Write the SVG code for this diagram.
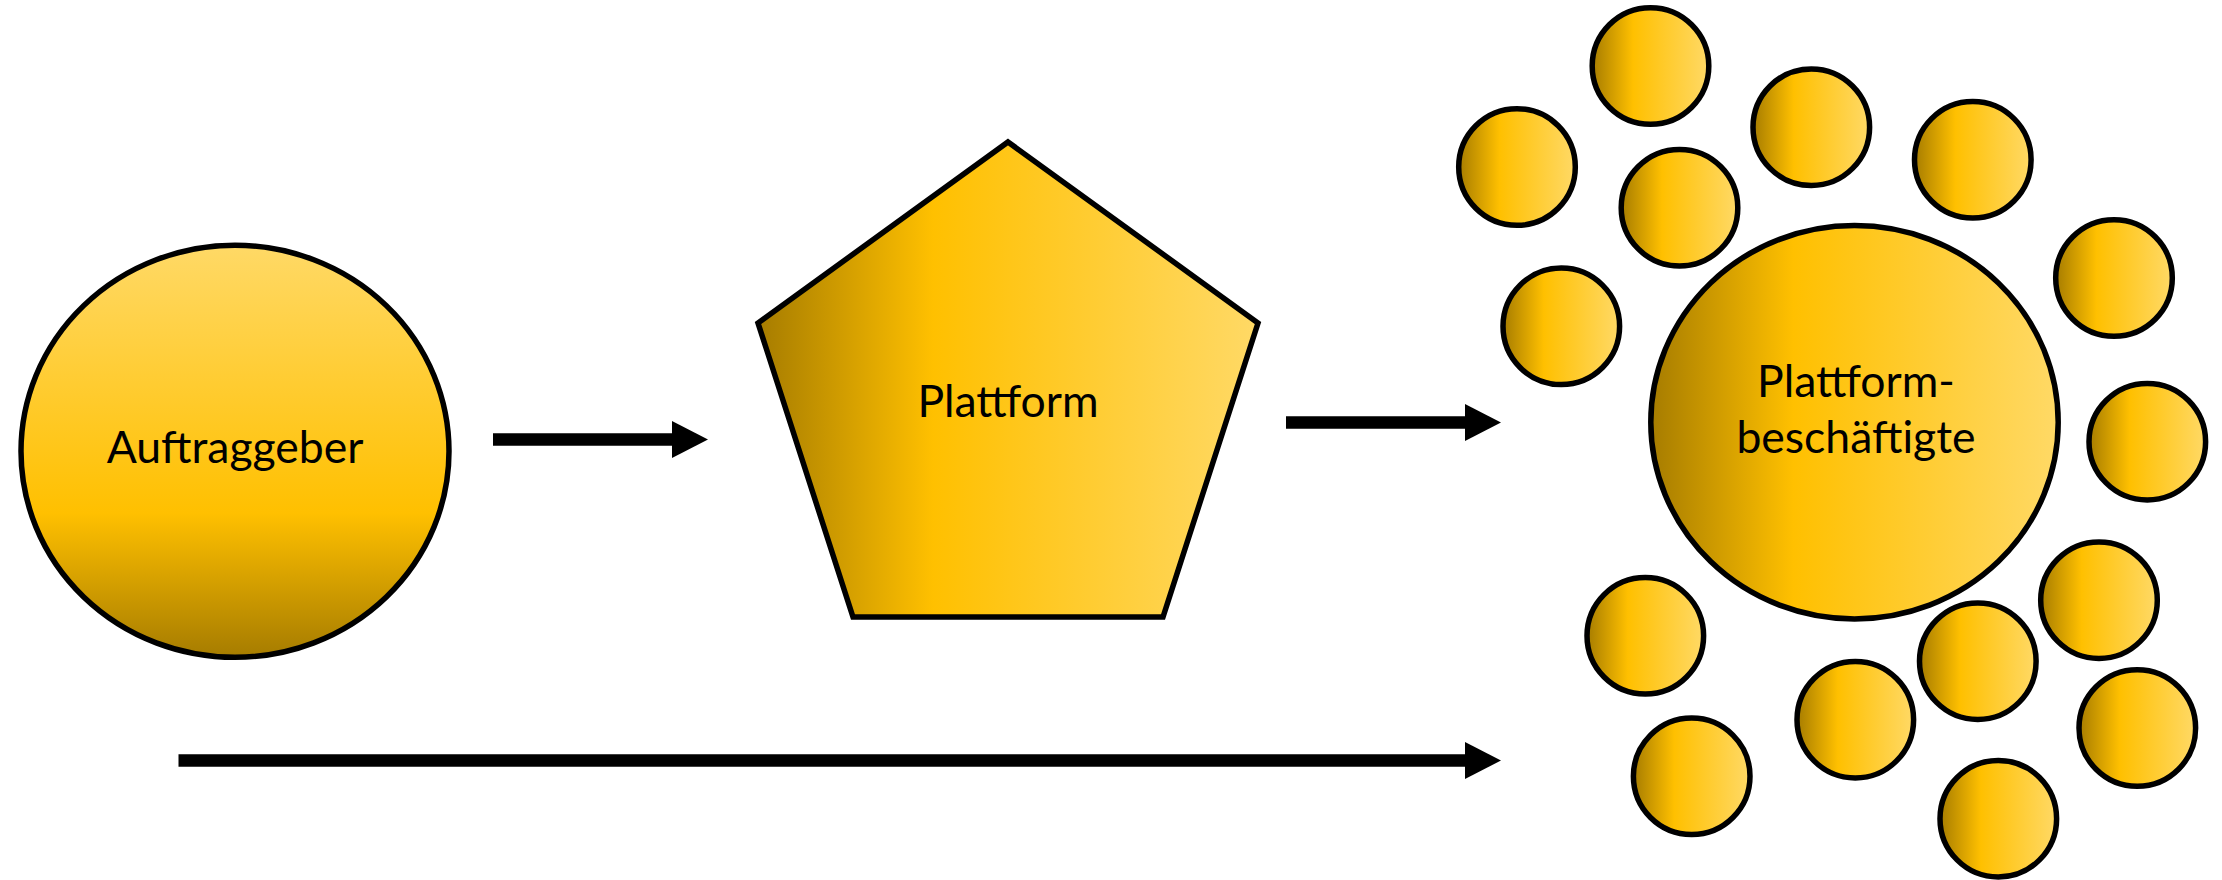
<svg xmlns="http://www.w3.org/2000/svg" width="2222" height="880" viewBox="0 0 2222 880">
  <defs>
    <linearGradient id="gH" x1="0" y1="0" x2="1" y2="0">
      <stop offset="0" stop-color="#A67C00"/>
      <stop offset="0.35" stop-color="#FFC000"/>
      <stop offset="1" stop-color="#FFD966"/>
    </linearGradient>
    <linearGradient id="gV" x1="0" y1="1" x2="0" y2="0">
      <stop offset="0" stop-color="#A67C00"/>
      <stop offset="0.35" stop-color="#FFC000"/>
      <stop offset="1" stop-color="#FFD966"/>
    </linearGradient>
    <marker id="head" markerUnits="userSpaceOnUse" markerWidth="36" markerHeight="37" refX="0" refY="18.5" orient="auto" overflow="visible">
      <path d="M0,0 L36,18.5 L0,37 Z" fill="#000"/>
    </marker>
  </defs>
  <style>
    .shape { stroke: #000; stroke-width: 5.5; stroke-linejoin: miter; }
    .h { fill: url(#gH); }
    .v { fill: url(#gV); }
    .lbl { font-family: Lato, "Liberation Sans", sans-serif; font-size: 44.5px; fill: #000; text-anchor: middle; }
    .arrow { stroke: #000; stroke-width: 12.5; fill: none; marker-end: url(#head); }
  </style>
  <rect width="2222" height="880" fill="#fff"/>

  <g id="connectors">
    <line class="arrow" x1="493" y1="439.5" x2="672" y2="439.5"/>
    <line class="arrow" x1="1286" y1="422.5" x2="1465" y2="422.5"/>
    <line class="arrow" x1="178.5" y1="760.5" x2="1465" y2="760.5"/>
  </g>

  <g id="auftraggeber">
    <ellipse class="shape v" cx="235" cy="451.3" rx="214" ry="206"/>
    <text class="lbl" x="235" y="463">Auftraggeber</text>
  </g>

  <g id="plattform">
    <polygon class="shape h" points="1008,142 1258,323 1163,617 853,617 758,323"/>
    <text class="lbl" x="1008" y="417">Plattform</text>
  </g>

  <g id="worker-1"><circle class="shape h" cx="1650.5" cy="66" r="58.3"/></g>
  <g id="worker-2"><circle class="shape h" cx="1517" cy="167" r="58.3"/></g>
  <g id="worker-3"><circle class="shape h" cx="1679.5" cy="207.7" r="58.3"/></g>
  <g id="worker-4"><circle class="shape h" cx="1561.3" cy="326.3" r="58.3"/></g>
  <g id="worker-5"><circle class="shape h" cx="1811.3" cy="127.2" r="58.3"/></g>
  <g id="worker-6"><circle class="shape h" cx="1972.8" cy="159.8" r="58.3"/></g>
  <g id="worker-7"><circle class="shape h" cx="2114" cy="278" r="58.3"/></g>
  <g id="worker-8"><circle class="shape h" cx="2147.3" cy="441.7" r="58.3"/></g>
  <g id="worker-9"><circle class="shape h" cx="1645.3" cy="635.8" r="58.3"/></g>
  <g id="worker-10"><circle class="shape h" cx="1691.7" cy="776.3" r="58.3"/></g>
  <g id="worker-11"><circle class="shape h" cx="1855.3" cy="719.7" r="58.3"/></g>
  <g id="worker-12"><circle class="shape h" cx="1977.8" cy="661.2" r="58.3"/></g>
  <g id="worker-13"><circle class="shape h" cx="2099" cy="600.2" r="58.3"/></g>
  <g id="worker-14"><circle class="shape h" cx="2137.3" cy="728" r="58.3"/></g>
  <g id="worker-15"><circle class="shape h" cx="1998.3" cy="818.7" r="58.3"/></g>

  <g id="plattformbeschaeftigte">
    <ellipse class="shape h" cx="1854.5" cy="422.2" rx="203.7" ry="196.7"/>
    <text class="lbl" x="1856" y="396.7">Plattform-</text>
    <text class="lbl" x="1856" y="453.3">beschäftigte</text>
  </g>
</svg>
